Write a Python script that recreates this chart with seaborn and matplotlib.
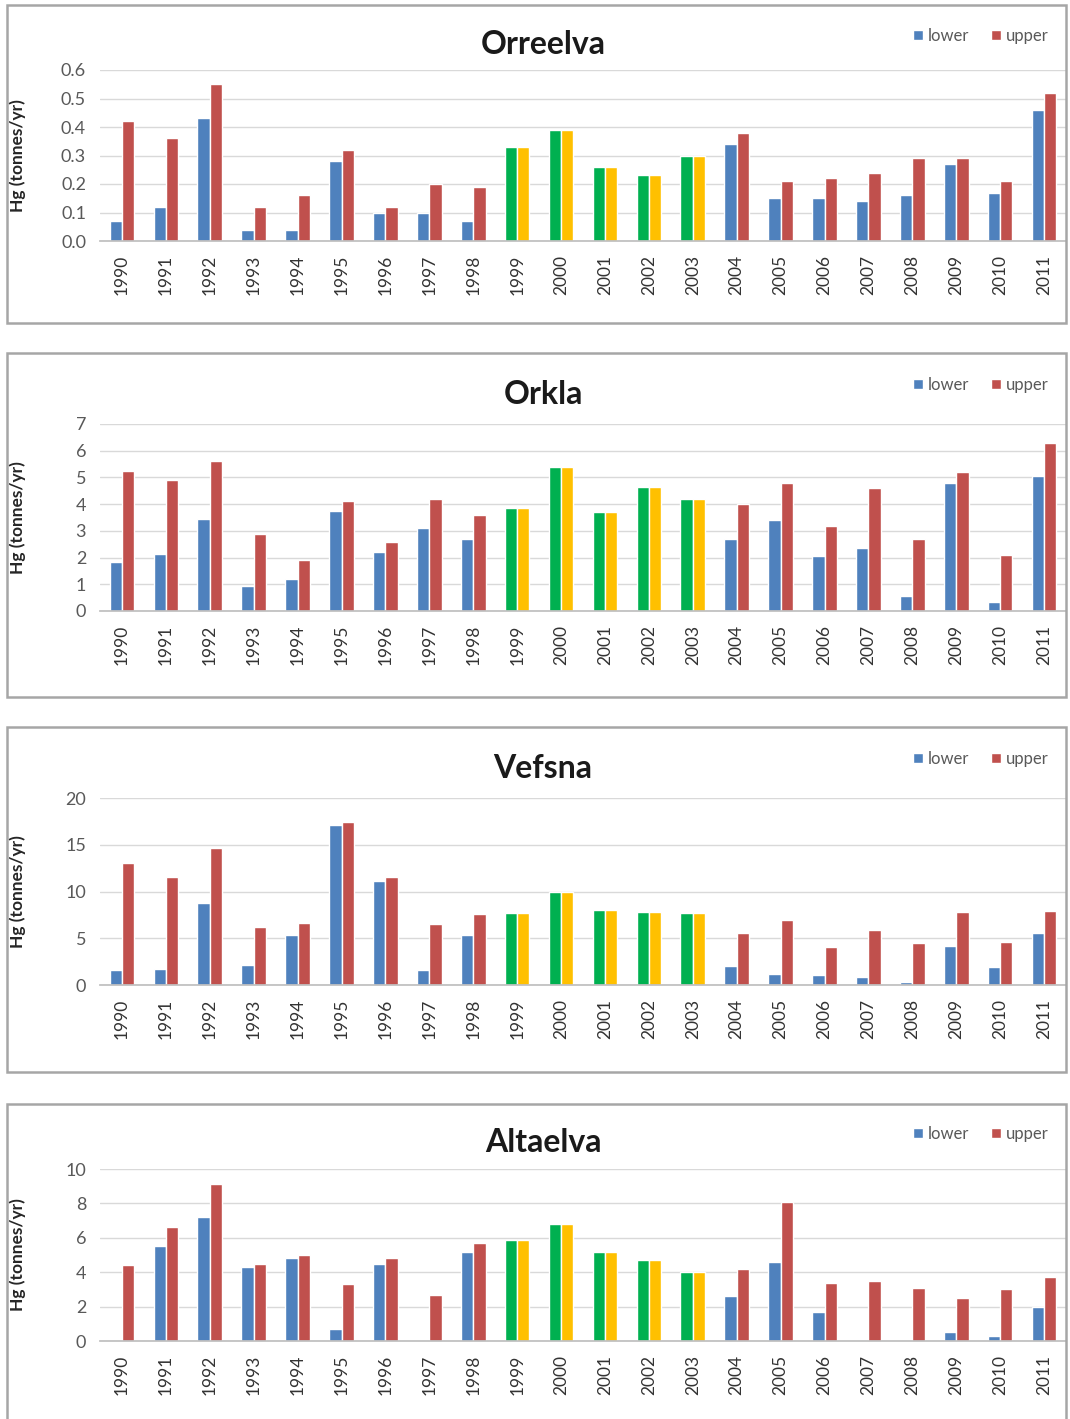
import numpy as np
import pandas as pd
import matplotlib
matplotlib.use("Agg")
import matplotlib.pyplot as plt
import matplotlib.patches as mpatches
import seaborn as sns

years = list(range(1990, 2012))
green_years = [1999, 2000, 2001, 2002, 2003]

orreelva_lower = [0.07, 0.12, 0.43, 0.04, 0.04, 0.28, 0.10, 0.10, 0.07, 0.33, 0.39,
                  0.26, 0.23, 0.30, 0.34, 0.15, 0.15, 0.14, 0.16, 0.27, 0.17, 0.46]
orreelva_upper = [0.42, 0.36, 0.55, 0.12, 0.16, 0.32, 0.12, 0.20, 0.19, 0.33, 0.39,
                  0.26, 0.23, 0.30, 0.38, 0.21, 0.22, 0.24, 0.29, 0.29, 0.21, 0.52]

orkla_lower = [1.85, 2.15, 3.45, 0.95, 1.2, 3.75, 2.2, 3.1, 2.7, 3.85, 5.4,
               3.7, 4.65, 4.2, 2.7, 3.4, 2.05, 2.35, 0.55, 4.8, 0.35, 5.05]
orkla_upper = [5.25, 4.9, 5.6, 2.9, 1.9, 4.1, 2.6, 4.2, 3.6, 3.85, 5.4,
               3.7, 4.65, 4.2, 4.0, 4.8, 3.2, 4.6, 2.7, 5.2, 2.1, 6.3]

vefsna_lower = [1.6, 1.7, 8.8, 2.1, 5.4, 17.1, 11.1, 1.6, 5.4, 7.7, 10.0,
                8.0, 7.8, 7.7, 2.0, 1.2, 1.1, 0.9, 0.3, 4.2, 1.9, 5.6]
vefsna_upper = [13.0, 11.6, 14.6, 6.2, 6.6, 17.4, 11.6, 6.5, 7.6, 7.7, 10.0,
                8.0, 7.8, 7.7, 5.6, 6.9, 4.1, 5.9, 4.5, 7.8, 4.6, 7.9]

altaelva_lower = [0.0, 5.5, 7.2, 4.3, 4.8, 0.7, 4.5, 0.0, 5.2, 5.9, 6.8,
                  5.2, 4.7, 4.0, 2.6, 4.6, 1.7, 0.0, 0.0, 0.5, 0.3, 2.0]
altaelva_upper = [4.4, 6.6, 9.1, 4.5, 5.0, 3.3, 4.8, 2.7, 5.7, 5.9, 6.8,
                  5.2, 4.7, 4.0, 4.2, 8.1, 3.4, 3.5, 3.1, 2.5, 3.0, 3.7]

rivers = ["Orreelva", "Orkla", "Vefsna", "Altaelva"]
lowers = [orreelva_lower, orkla_lower, vefsna_lower, altaelva_lower]
uppers = [orreelva_upper, orkla_upper, vefsna_upper, altaelva_upper]
yticks = [np.arange(0, 0.61, 0.1), range(0, 8), range(0, 21, 5), range(0, 11, 2)]
ylims = [0.6, 7, 20, 10]

# pixel layout (figure is 1070 x 1419 px)
W, H = 1070, 1419
ax_top = [70, 424, 798, 1169]
ax_bot = [241, 611, 985, 1341]
title_y = [45, 394, 768, 1143]
box_top = [5, 353, 727, 1104]
box_bot = [323, 697, 1072, 1425]
left, right = 100, 1066

blue, red = "#4F81BD", "#C0504D"
green, yellow = "#00B050", "#FFC000"

sns.set_theme(style="white")
plt.rcParams["font.family"] = ["Lato", "DejaVu Sans"]

fig = plt.figure(figsize=(W / 100, H / 100), dpi=100)

for i, river in enumerate(rivers):
    # panel border
    fig.patches.append(mpatches.Rectangle(
        (7 / W, 1 - box_bot[i] / H), (1066 - 7) / W, (box_bot[i] - box_top[i]) / H,
        transform=fig.transFigure, fill=False, edgecolor="#a6a6a6", linewidth=1.8))

    ax = fig.add_axes([left / W, 1 - ax_bot[i] / H, (right - left) / W,
                       (ax_bot[i] - ax_top[i]) / H])
    df = pd.DataFrame({
        "year": [str(y) for y in years] * 2,
        "Hg": lowers[i] + uppers[i],
        "level": ["lower"] * len(years) + ["upper"] * len(years),
    })
    sns.barplot(data=df, x="year", y="Hg", hue="level", palette=[blue, red],
                width=0.56, saturation=1, ax=ax, legend=True)

    # 1999-2003 pairs drawn green / yellow
    for j, yr in enumerate(years):
        if yr in green_years:
            ax.containers[0][j].set_facecolor(green)
            ax.containers[1][j].set_facecolor(yellow)

    ax.set_ylim(0, ylims[i])
    ax.set_yticks(list(yticks[i]))
    if i == 0:
        ax.set_yticklabels([f"{v:.1f}" for v in yticks[i]])
    ax.set_xlim(-0.5, len(years) - 0.5)
    ax.grid(axis="y", color="#d9d9d9", linewidth=1)
    ax.set_axisbelow(True)
    for s in ["left", "right", "top"]:
        ax.spines[s].set_visible(False)
    ax.spines["bottom"].set_color("#bfbfbf")
    ax.tick_params(axis="y", labelsize=13, colors="#595959", length=0, pad=10)
    ax.tick_params(axis="x", labelsize=12.5, colors="#333333", length=0, pad=10,
                   labelrotation=90)
    ax.set_xlabel("")
    ax.set_ylabel("Hg (tonnes/yr)", fontsize=12.5, fontweight="bold", color="#262626")
    ax.yaxis.set_label_coords((26 - left) / (right - left), 0.5)

    fig.text(543 / W, 1 - title_y[i] / H, river, ha="center", va="center",
             fontsize=23, fontweight="bold", color="#1a1a1a")

    handles, labels = ax.get_legend_handles_labels()
    ax.legend(handles, labels, loc="center right", ncol=2, frameon=False,
              bbox_to_anchor=(1064 / W, 1 - (title_y[i] - 9) / H),
              bbox_transform=fig.transFigure, fontsize=12, labelcolor="#595959",
              handlelength=0.6, handleheight=0.6, handletextpad=0.3,
              columnspacing=1.3)

fig.savefig("out.png", dpi=100)
